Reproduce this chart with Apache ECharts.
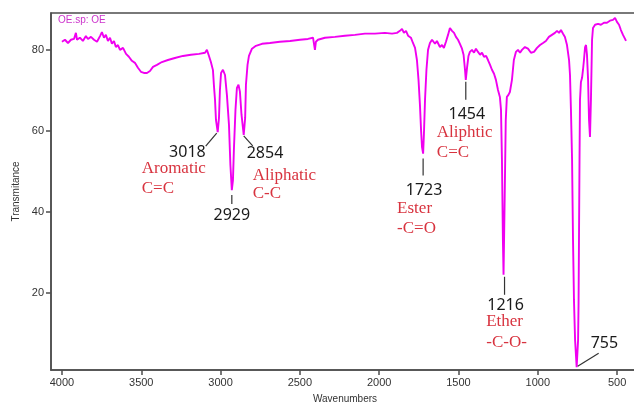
<!DOCTYPE html>
<html><head><meta charset="utf-8">
<script src="https://cdn.jsdelivr.net/npm/echarts@6/dist/echarts.min.js"></script>
<style>html,body{margin:0;padding:0;background:#fff}#c{width:634px;height:405px}</style>
</head><body><div id="c"></div>
<script>
// ---- data ----
const wavenumbers = [4000,3981,3962,3943,3924,3912,3905,3887,3868,3849,3836,3817,3798,3779,3760,3748,3735,3723,3710,3697,3685,3672,3660,3647,3634,3615,3596,3578,3559,3540,3521,3502,3483,3464,3445,3426,3401,3370,3332,3288,3237,3187,3136,3098,3086,3073,3061,3048,3042,3035,3029,3018,3010,3004,2997,2985,2972,2960,2947,2938,2929,2922,2916,2906,2897,2887,2878,2868,2854,2845,2840,2830,2821,2802,2777,2739,2689,2626,2562,2499,2449,2417,2411,2405,2399,2386,2342,2279,2216,2153,2090,2027,1964,1919,1888,1869,1856,1844,1831,1818,1800,1787,1774,1762,1752,1743,1736,1730,1723,1718,1711,1702,1692,1680,1667,1648,1636,1617,1604,1592,1579,1566,1554,1541,1528,1516,1503,1491,1478,1468,1459,1454,1446,1437,1428,1415,1402,1390,1377,1364,1352,1339,1326,1314,1301,1289,1276,1264,1251,1239,1232,1226,1220,1216,1209,1202,1195,1185,1176,1163,1151,1138,1125,1112,1100,1081,1062,1043,1024,1005,986,967,949,930,911,892,879,866,854,841,829,816,803,797,791,784,778,772,765,755,746,743,740,737,734,728,721,715,709,702,696,690,683,677,671,665,658,652,639,620,602,583,564,545,526,513,501,488,476,463,450,444];
const transmittance = [82.0,82.5,81.7,82.5,82.7,84.2,82.5,83.0,82.2,83.4,82.7,83.2,82.5,82.0,83.4,84.4,83.0,83.7,82.2,83.0,81.5,82.2,80.7,81.2,80.0,80.5,79.0,78.3,77.3,76.8,75.6,74.6,74.3,74.3,74.8,75.8,76.3,77.0,77.5,78.0,78.5,78.8,79.0,79.3,80.0,78.5,77.0,75.0,71.3,67.7,62.7,59.7,63.2,70.1,74.3,75.1,73.8,68.9,61.5,51.6,45.4,47.8,55.3,65.2,70.6,71.4,69.7,64.0,59.0,63.2,71.4,76.3,78.5,80.3,81.0,81.5,81.7,82.0,82.2,82.5,82.7,83.0,81.5,80.0,82.0,82.5,83.0,83.2,83.5,83.7,84.0,84.0,84.2,84.0,84.2,84.7,85.2,84.2,84.7,83.5,83.0,81.7,80.5,77.5,72.6,66.4,60.2,56.0,54.4,59.1,67.7,75.1,80.0,81.7,82.5,81.5,82.2,80.7,81.2,80.5,82.0,83.7,85.4,84.7,84.2,83.2,82.5,81.5,80.3,78.8,75.1,72.6,75.6,78.5,79.5,80.0,79.3,80.3,79.5,78.8,79.3,78.3,78.5,77.5,76.3,75.1,74.1,72.6,70.1,68.4,65.2,52.9,33.1,24.5,43.0,62.7,68.4,68.9,69.6,72.6,77.5,79.5,80.0,79.3,80.0,80.7,80.3,79.3,79.5,80.5,81.2,81.7,82.2,83.2,83.7,84.2,84.7,84.2,84.9,84.0,83.2,81.2,77.5,73.8,65.2,52.9,33.1,18.3,8.4,1.7,8.4,17.5,35.4,52.9,67.7,72.1,73.1,75.1,77.5,80.7,81.2,78.8,72.6,62.7,58.5,67.7,82.5,85.4,86.2,86.4,86.2,86.7,86.7,87.2,87.4,87.9,86.9,86.2,84.9,83.7,82.7,82.2];
const xTicks = [500,1000,1500,2000,2500,3000,3500,4000];
const yTicks = [20,40,60,80];
const peakWavenumbers = [3018,2929,2854,1723,1454,1216,755];
const peakTransmittance = [59.7,45.4,59.0,54.4,72.6,24.5,1.7];
const peakLabels = ['3018','2929','2854','1723','1454','1216','755'];
const groupLine1 = ['Aromatic','','Aliphatic','Ester','Aliphtic','Ether',''];
const groupLine2 = ['C=C','','C-C','-C=O','C=C','-C-O-',''];
const sampleName = 'OE.sp: OE';
const xName = 'Wavenumbers';
const yName = 'Transmitance';

const chart = echarts.init(document.getElementById('c'), null, {renderer:'canvas'});
const series = wavenumbers.map((w,i)=>[w, transmittance[i]]);
const axisCol = '#4d4d4d';
const labelFont = {fontFamily:'Liberation Sans, Arial, sans-serif', fontSize:11, color:'#333', formatter:(v)=>String(v)};
chart.setOption({
  animation:false,
  backgroundColor:'#fff',
  grid:{left:51, right:-5, top:13, bottom:35, show:true, borderColor:axisCol, borderWidth:1.5,
        outerBoundsMode:'none', containLabel:false},
  xAxis:{type:'value', inverse:true, min:362, max:4069,
    name:xName, nameLocation:'middle', nameGap:24,
    nameTextStyle:{fontFamily:'Liberation Sans, Arial, sans-serif', fontSize:10, color:'#333'},
    axisLine:{show:true, lineStyle:{color:axisCol, width:1.5}},
    axisTick:{show:true, inside:false, length:5, customValues:xTicks, lineStyle:{color:axisCol, width:1.5}},
    axisLabel:Object.assign({customValues:xTicks, margin:7}, labelFont),
    splitLine:{show:false}},
  yAxis:{type:'value', min:1, max:89.1,
    name:yName, nameLocation:'middle', nameGap:28,
    nameTextStyle:{fontFamily:'Liberation Sans, Arial, sans-serif', fontSize:10, color:'#333'},
    axisLine:{show:true, lineStyle:{color:axisCol, width:1.5}},
    axisTick:{show:true, inside:false, length:5, customValues:yTicks, lineStyle:{color:axisCol, width:1.5}},
    axisLabel:Object.assign({customValues:yTicks, margin:7}, labelFont),
    splitLine:{show:false}},
  series:[{type:'line', data:series, symbol:'none', smooth:false,
    lineStyle:{color:'#f000f0', width:1.9}, z:3}]
});

// annotations anchored on the peaks through the chart's own scales
const numFont = '16px "Noto Sans", "Open Sans", sans-serif';
const redFont = '17px "Liberation Serif", "DejaVu Serif", serif';
const red = '#d8333f';
const dark = '#1a1a1a';
// layout offsets (pixels) relative to each peak: leader start/end, number pos, red text pos
const layout = [
  {l:[-1,1,-12,14], n:[-12,20,'right'], r:[-76,36,'left'], r2:56},
  {l:[0,5,0,14], n:[0,25,'center']},
  {l:[0,1,9,11], n:[3,18,'left'], r:[9,41,'left'], r2:59},
  {l:[0,5,0,22], n:[1,37,'center'], r:[-26,55,'left'], r2:75},
  {l:[0,2,0,20], n:[1,35,'center'], r:[-29,53,'left'], r2:73},
  {l:[1,2,1,20], n:[2,31,'center'], r:[1,47,'center'], r2:68},
  {l:[1,-1,22,-14], n:[14,-24,'left']}
];
const elements = [{type:'text', left:58, top:15, style:{text:sampleName, font:'10px "Liberation Sans", Arial, sans-serif', fill:'#cc33cc'}}];
peakWavenumbers.forEach((w,i)=>{
  const p = chart.convertToPixel({gridIndex:0}, [w, peakTransmittance[i]]);
  const L = layout[i];
  elements.push({type:'line', shape:{x1:p[0]+L.l[0], y1:p[1]+L.l[1], x2:p[0]+L.l[2], y2:p[1]+L.l[3]}, style:{stroke:'#333', lineWidth:1.2}, z:10});
  elements.push({type:'text', x:p[0]+L.n[0], y:p[1]+L.n[1], style:{text:peakLabels[i], font:numFont, fill:dark, align:L.n[2], verticalAlign:'middle'}, z:10});
  if (L.r && groupLine1[i]) {
    elements.push({type:'text', x:p[0]+L.r[0], y:p[1]+L.r[1], style:{text:groupLine1[i], font:redFont, fill:red, align:L.r[2], verticalAlign:'middle'}, z:10});
    elements.push({type:'text', x:p[0]+L.r[0]+(i===5?2:0), y:p[1]+L.r2, style:{text:groupLine2[i], font:redFont, fill:red, align:L.r[2], verticalAlign:'middle'}, z:10});
  }
});
chart.setOption({graphic:{elements:elements}});
</script></body></html>
